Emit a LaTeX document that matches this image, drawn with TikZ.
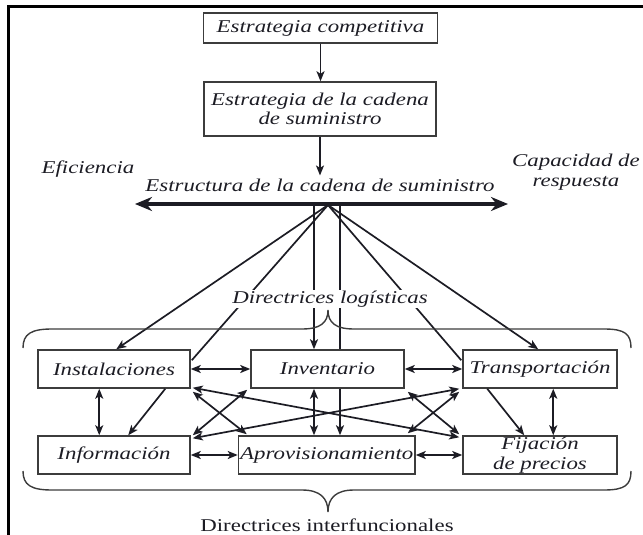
\documentclass[tikz,border=0pt]{standalone}
\usepackage{fontspec}
\setmainfont{Liberation Serif}[FakeStretch=1.27]
\usetikzlibrary{arrows.meta,calc}
\definecolor{ink}{HTML}{1C1C24}
\definecolor{rule}{HTML}{3C3C3C}

\begin{document}
\begin{tikzpicture}[x=1pt,y=-1pt,
  every node/.style={text=ink, font=\fontsize{18}{19.5}\selectfont\itshape},
  box/.style={draw=rule, line width=1.5pt, inner sep=0pt, minimum height=38pt, align=center},
  tip/.style={-{Stealth[length=10pt,width=8pt,inset=2.5pt]}},
  both/.style={{Stealth[length=10pt,width=8pt,inset=2.5pt]}-{Stealth[length=10pt,width=8pt,inset=2.5pt]}},
  link/.style={draw=ink, line width=1.7pt},
  brace/.style={draw=rule, line width=1.4pt}]

\useasboundingbox (0,0) rectangle (643,535);

% outer frame (top and left edges)
\draw[line width=2.6pt, black] (643,6.5) -- (8.5,6.5) -- (8.5,535);

% strategy levels
\node[box, minimum width=234pt, minimum height=30pt] (comp) at (320.5,28) {Estrategia competitiva};
\node[box, minimum width=232pt, minimum height=54pt] (sc) at (320,109) {Estrategia de la cadena\\de suministro};
\node (eff) at (88,169) {Eficiencia};
\node[align=center] (resp) at (576,172) {Capacidad de\\respuesta};
\node[inner sep=1pt] (estr) at (320,185) {Estructura de la cadena de suministro};

\draw[link, tip] (comp.south) -- (comp.south |- sc.north);
\draw[link, tip, shorten >=2pt] (sc.south) -- (sc.south |- estr.north);

% efficiency / responsiveness spectrum
\coordinate (effL) at (135,204);
\coordinate (effR) at (508,204);
\draw[line width=4.5pt, draw=ink, {Stealth[length=17pt,width=14pt]}-{Stealth[length=17pt,width=14pt]}] (effL) -- (effR);
\coordinate (hub) at (328,205);
\coordinate (vl) at (314,205);
\coordinate (vr) at (340,205);

% drivers
\node[box, minimum width=152pt] (inst) at (114,369) {Instalaciones};
\node[box, minimum width=153pt] (inv) at (327.5,369) {Inventario};
\node[box, minimum width=154pt] (trans) at (540,369) {Transportación};
\node[box, minimum width=152pt] (info) at (114,455) {Información};
\node[box, minimum width=176.5pt] (aprov) at (326.75,455) {Aprovisionamiento};
\node[box, minimum width=154pt] (fij) at (540,455) {Fijación\\de precios};

% structure fanning out to the drivers
\draw[link, tip] (hub) -- ($(inst.north west)+(79,0)$);
\draw[link] (hub) -- ($(inst.north east)+(1,11)$);
\draw[link, tip] (vl) -- (vl |- inv.north);
\draw[link] (vr) -- (vr |- inv.north);
\draw[link, tip] (vr |- inv.south) -- (vr |- aprov.north);
\draw[link] (hub) -- ($(trans.north west)+(-1,11)$);
\draw[link, tip] (hub) -- ($(trans.north west)+(76,0)$);

\node[fill=white, inner sep=1pt] (log) at (330,299) {Directrices logísticas};

% braces
\draw[brace] (23,348) .. controls (23,334) and (31,329) .. (52,329) -- (302,329)
  .. controls (320,329) and (328,323) .. (328,310)
  .. controls (328,323) and (336,329) .. (354,329) -- (604,329)
  .. controls (625,329) and (631,334) .. (631,348);
\draw[brace] (23,471) .. controls (23,485) and (31,490) .. (52,490) -- (302,490)
  .. controls (320,490) and (328,498) .. (328,512)
  .. controls (328,498) and (336,490) .. (354,490) -- (604,490)
  .. controls (625,490) and (631,485) .. (631,471);
\node[font=\fontsize{18}{19.5}\selectfont\upshape] (cross) at (327,525) {Directrices interfuncionales};

% links between drivers
\draw[link, both] (inst.east) -- (inv.west);
\draw[link, both] (inv.east) -- (trans.west);
\draw[link, both] (info.east) -- (aprov.west);
\draw[link, both] (aprov.east) -- (fij.west);
\draw[link, both] ($(inst.south west)+(62,0)$) -- ($(info.north west)+(62,0)$);
\draw[link, both] ($(trans.south west)+(91,0)$) -- ($(fij.north west)+(91,0)$);
\draw[link, tip] ($(inst.south west)+(128,0)$) -- ($(info.north west)+(91,0)$);
\draw[link, tip] ($(trans.south west)+(25,0)$) -- ($(fij.north west)+(62,0)$);
\draw[link, both] (vl |- inv.south) -- (vl |- aprov.north);
\draw[link, both] ($(inst.south east)+(2,3)$) -- ($(aprov.north west)+(9,-1)$);
\draw[link, both] ($(inv.south west)+(-3,1)$) -- ($(info.north east)+(2,0)$);
\draw[link, both] ($(inst.south east)+(2,-1)$) -- ($(fij.north west)+(-3,2)$);
\draw[link, both] ($(trans.south west)+(-3,0)$) -- ($(info.north east)+(2,3)$);
\draw[link, both] ($(inv.south east)+(3,3)$) -- ($(fij.north west)+(-3,-1)$);
\draw[link, both] ($(trans.south west)+(-3,3)$) -- ($(aprov.north east)+(-8,-2)$);
\end{tikzpicture}
\end{document}
